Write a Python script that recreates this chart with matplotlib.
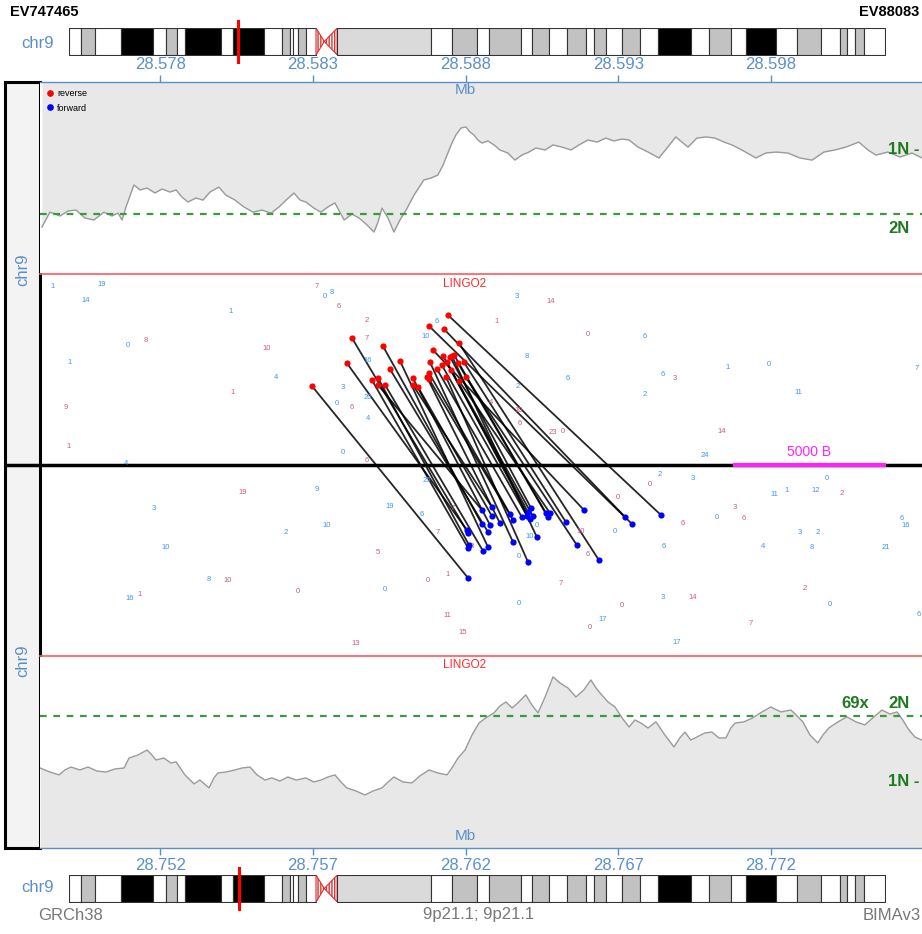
import matplotlib
matplotlib.use("Agg")
import matplotlib.pyplot as plt
from matplotlib.patches import Polygon
from matplotlib.lines import Line2D

plt.rcParams['font.family'] = ['Liberation Sans', 'DejaVu Sans']

# ---- data ----
CHR9_LEN = 138.4
TOP_START_MB = 28.574
BOT_START_MB = 28.748

# ideogram bands of chr9 (Mb)
band_start = [0, 2.0, 4.4, 8.8, 14.2, 16.5, 18.3, 19.7, 25.8, 27.8, 33.1, 36.1, 37.5, 38.0,
              38.8, 40.2, 41.9, 45.5, 61.4, 65.0, 69.2, 71.2, 76.7, 78.5, 81.4, 84.5, 87.7,
              89.0, 91.1, 93.8, 96.8, 99.9, 105.5, 108.5, 112.3, 114.8, 119.9, 123.5, 127.5,
              130.8, 132.0, 133.3, 134.8]
band_stain = ['gneg', 'gpos50', 'gneg', 'gpos100', 'gneg', 'gpos50', 'gneg', 'gpos100', 'gneg',
              'gpos100', 'gneg', 'gpos50', 'gneg', 'gneg', 'gpos50', 'gneg', 'acen', 'gvar',
              'gneg', 'gpos50', 'gneg', 'gpos50', 'gneg', 'gpos50', 'gneg', 'gpos50', 'gneg',
              'gpos50', 'gneg', 'gpos50', 'gneg', 'gpos100', 'gneg', 'gpos50', 'gneg', 'gpos100',
              'gneg', 'gpos50', 'gneg', 'gpos50', 'gneg', 'gpos50', 'gneg']

# coverage, positions in kb from region start, depth in x
top_cov_kb = [0.13, 0.39, 0.72, 0.98, 1.24, 1.54, 1.83, 2.16, 2.42, 2.62, 2.75, 2.88, 3.14, 3.34,
              3.57, 3.83, 4.06, 4.32, 4.52, 4.71, 4.91, 5.17, 5.40, 5.63, 5.92, 6.15, 6.45, 6.74,
              7.04, 7.33, 7.63, 7.89, 8.12, 8.38, 8.58, 8.77, 9.03, 9.26, 9.49, 9.72, 10.02, 10.28,
              10.51, 10.74, 11.00, 11.13, 11.26, 11.46, 11.65, 11.85, 12.05, 12.31, 12.63, 12.86,
              13.09, 13.26, 13.39, 13.55, 13.68, 13.85, 14.01, 14.14, 14.27, 14.40, 14.53, 14.73,
              14.93, 15.12, 15.38, 15.61, 15.84, 16.07, 16.30, 16.60, 16.86, 17.15, 17.45, 17.71,
              18.00, 18.30, 18.59, 18.85, 19.12, 19.35, 19.64, 19.97, 20.33, 20.59, 20.88, 21.08,
              21.28, 21.57, 21.87, 22.16, 22.46, 22.72, 23.04, 23.50, 23.83, 24.16, 24.55, 24.94,
              25.34, 25.73, 26.09, 26.45, 26.87, 27.17, 27.43, 27.82, 28.22, 28.61, 28.94]
top_cov = [75.8, 68.0, 70.0, 67.4, 66.9, 71.1, 72.1, 68.0, 70.0, 68.5, 72.1, 65.3, 53.8, 56.4,
           55.4, 58.0, 55.9, 57.5, 56.4, 60.1, 62.7, 60.6, 61.7, 57.5, 54.9, 59.1, 61.7, 65.3,
           68.0, 66.9, 68.5, 65.3, 61.7, 58.0, 61.7, 62.7, 65.9, 68.0, 65.3, 63.2, 72.1, 69.0,
           71.1, 74.2, 78.4, 73.2, 65.9, 71.1, 78.4, 72.1, 66.9, 59.1, 51.2, 50.2, 48.6, 43.4,
           38.2, 31.9, 27.7, 24.0, 23.5, 26.1, 27.7, 30.3, 31.9, 30.8, 32.9, 35.5, 37.1, 40.8,
           38.2, 36.6, 34.5, 35.5, 32.9, 34.0, 35.5, 32.9, 30.3, 31.4, 29.3, 30.8, 29.8, 30.3,
           34.0, 36.6, 39.7, 34.5, 28.7, 31.4, 34.0, 29.3, 28.7, 29.3, 31.4, 32.9, 35.5, 39.7,
           37.1, 36.6, 37.1, 39.7, 40.8, 36.6, 35.5, 34.0, 31.4, 35.5, 38.2, 36.6, 39.2, 37.1, 39.7]

bot_cov_kb = [0.07, 0.39, 0.69, 0.88, 1.08, 1.37, 1.64, 1.93, 2.23, 2.52, 2.82, 2.98, 3.27, 3.57,
              3.73, 3.86, 4.12, 4.35, 4.52, 4.81, 5.11, 5.30, 5.60, 5.76, 5.89, 6.15, 6.45, 6.68,
              6.94, 7.17, 7.43, 7.66, 7.92, 8.18, 8.45, 8.77, 9.03, 9.26, 9.49, 9.72, 9.92, 10.11,
              10.41, 10.70, 10.97, 11.26, 11.46, 11.65, 11.95, 12.24, 12.50, 12.80, 13.09, 13.39,
              13.55, 13.75, 13.98, 14.21, 14.44, 14.66, 14.93, 15.12, 15.32, 15.52, 15.71, 15.97,
              16.17, 16.37, 16.60, 16.86, 17.09, 17.35, 17.61, 17.87, 18.10, 18.27, 18.40, 18.66,
              18.89, 19.12, 19.35, 19.54, 19.74, 19.97, 20.23, 20.52, 20.82, 21.01, 21.18, 21.37,
              21.57, 21.83, 22.06, 22.29, 22.52, 22.68, 22.82, 23.11, 23.40, 23.70, 23.99, 24.32,
              24.65, 24.85, 25.04, 25.27, 25.53, 25.70, 25.89, 26.19, 26.48, 26.78, 27.07, 27.33,
              27.63, 27.89, 28.12, 28.31, 28.51, 28.71, 28.94]
bot_cov = [41.8, 39.7, 38.2, 40.8, 42.3, 40.8, 42.3, 40.2, 39.7, 41.3, 41.8, 47.0, 48.6, 51.2,
           48.6, 46.0, 47.0, 44.4, 45.0, 38.2, 33.5, 35.5, 31.4, 36.6, 39.2, 39.7, 40.8, 41.8,
           42.3, 38.2, 35.5, 36.6, 35.0, 37.1, 35.5, 36.6, 34.5, 35.5, 37.1, 38.2, 34.5, 31.4,
           29.8, 27.7, 29.8, 31.4, 34.5, 37.1, 34.5, 34.0, 37.6, 40.8, 39.2, 38.2, 41.8, 47.0,
           51.2, 59.1, 65.3, 68.0, 70.6, 74.2, 76.3, 73.2, 75.8, 80.0, 74.7, 70.6, 78.9, 89.4,
           86.2, 83.6, 78.9, 82.6, 87.8, 83.6, 81.0, 76.3, 73.7, 68.0, 63.2, 66.9, 65.3, 62.7,
           65.9, 59.1, 52.8, 57.5, 60.6, 56.4, 58.0, 60.1, 60.6, 57.5, 57.5, 62.7, 65.3, 65.9,
           68.0, 71.1, 73.7, 71.1, 72.1, 69.0, 65.9, 59.1, 54.9, 59.1, 62.7, 65.9, 68.5, 65.9,
           64.3, 68.0, 72.1, 70.0, 71.1, 66.9, 61.7, 58.0, 56.4]

# read pairs: reverse end (top region) and forward end (bottom region), kb and row lane
rev_kb = [13.42, 13.29, 12.80, 13.78, 12.93, 14.01, 13.94, 8.97, 10.11, 10.28, 10.93, 11.13,
          11.13, 11.29, 11.36, 11.52, 11.85, 12.27, 12.27, 12.44, 12.73, 12.80, 12.80, 12.83,
          13.06, 13.22, 13.26, 13.36, 13.39, 13.49, 13.52, 13.55, 13.62, 13.75, 13.78]
rev_lane = [78.1, 70.8, 72.4, 63.5, 59.9, 45.8, 53.6, 41.1, 53.1, 66.1, 44.3, 45.3, 41.7, 62.0,
            41.7, 50.0, 54.2, 45.3, 41.7, 40.6, 45.8, 47.9, 44.8, 53.6, 50.0, 52.1, 56.8, 45.8,
            53.6, 56.3, 49.5, 56.8, 57.3, 53.1, 43.8]
fwd_kb = [20.39, 19.44, 19.21, 18.36, 17.87, 17.64, 17.28, 14.08, 14.04, 14.08, 14.08, 14.11,
          14.53, 14.53, 14.57, 14.73, 14.73, 14.80, 14.86, 14.86, 15.12, 15.45, 15.55, 15.55,
          15.84, 16.01, 16.04, 16.04, 16.10, 16.14, 16.20, 16.33, 16.63, 16.69, 16.76]
fwd_lane = [-26.0, -30.7, -27.1, -49.5, -23.4, -41.7, -29.7, -58.9, -33.9, -35.4, -43.2, -41.7,
            -23.4, -30.7, -44.8, -34.9, -42.7, -31.3, -21.9, -26.6, -30.2, -25.5, -28.6, -40.1,
            -27.1, -26.6, -24.5, -50.5, -28.1, -22.4, -26.6, -37.5, -25.0, -27.1, -25.0]

# single reads labelled with their count (b = forward, p = reverse)
lab_kb = [0.49, 2.09, 1.57, 6.32, 9.13, 9.39, 9.62, 9.85, 10.77, 10.77, 13.06, 12.70, 2.95, 3.54,
          7.50, 1.05, 10.80, 7.79, 6.38, 9.98, 9.79, 10.28, 10.80, 10.80, 0.92, 1.01, 9.98, 2.88,
          10.77, 15.68, 16.79, 15.02, 18.00, 19.87, 16.01, 17.35, 20.46, 20.85, 22.59, 23.93,
          28.77, 19.87, 24.91, 15.71, 14.83, 15.74, 15.78, 16.86, 17.18, 22.39, 21.83,
          6.71, 9.13, 12.73, 3.80, 11.52, 12.57, 13.58, 8.12, 9.46, 13.09, 4.19, 11.13, 5.60,
          6.22, 8.51, 11.36, 12.77, 13.42, 3.01, 3.31, 13.39, 10.41, 20.36, 21.44, 20.03, 18.99,
          25.83, 24.12, 24.52, 25.47, 26.32, 22.82, 22.23, 23.11, 21.11, 18.89, 17.77, 24.94,
          25.53, 28.28, 28.41, 20.49, 23.73, 25.34, 27.76, 16.33, 16.10, 15.74, 18.00, 14.21,
          17.12, 25.11, 20.46, 21.44, 15.74, 25.92, 19.12, 18.49, 18.07, 23.34, 28.84, 20.92, 13.91]
lab_lane = [93.2, 93.8, 85.9, 79.7, 93.2, 87.5, 90.1, 82.8, 75.0, 66.1, 74.5, 66.7, 62.0, 64.6,
            60.9, 53.6, 54.2, 45.8, 37.5, 40.6, 31.8, 30.2, 35.4, 24.0, 29.7, 9.4, 6.3, 1.0,
            2.1, 87.5, 84.9, 74.5, 68.2, 66.7, 56.3, 44.8, 46.9, 44.8, 51.0, 52.6, 50.5, 36.5,
            38.0, 41.1, 32.3, 28.6, 21.4, 16.7, 17.2, 17.7, 5.2,
            -14.1, -13.0, -8.3, -22.4, -21.4, -26.0, -22.4, -34.9, -31.3, -35.4, -43.2, -45.8,
            -59.4, -60.4, -66.1, -64.6, -60.4, -56.8, -69.3, -67.2, -78.6, -93.2, -5.2, -6.8,
            -10.4, -16.7, -6.8, -15.6, -13.5, -13.5, -14.6, -21.9, -27.6, -28.1, -30.7, -34.4,
            -34.4, -34.9, -34.9, -28.1, -31.3, -42.7, -42.2, -43.2, -43.2, -31.3, -37.5, -47.9,
            -46.4, -42.2, -61.5, -64.1, -68.8, -68.8, -71.9, -72.4, -73.4, -80.7, -84.4, -82.3,
            -78.1, -92.2, -87.0]
lab_text = ['1', '19', '14', '1', '7', '0', '8', '6', '2', '7', '6', '10', '0', '8', '10', '1',
            '16', '4', '1', '3', '0', '6', '20', '4', '9', '1', '0', '4', '6', '3', '14', '1', '0',
            '6', '8', '6', '6', '3', '1', '0', '7', '2', '11', '2', '4', '10', '6', '23', '0',
            '14', '24',
            '19', '9', '25', '3', '19', '6', '7', '2', '10', '7', '10', '5', '8', '10', '0', '0',
            '0', '1', '16', '1', '11', '13', '2', '3', '0', '0', '0', '11', '1', '12', '2', '3',
            '0', '6', '6', '0', '10', '3', '2', '6', '16', '6', '4', '8', '21', '0', '10', '0',
            '6', '8', '7', '2', '3', '14', '0', '0', '0', '17', '0', '7', '6', '17', '15']
lab_strand = ['b', 'b', 'b', 'b', 'p', 'b', 'b', 'p', 'p', 'p', 'b', 'b', 'b', 'p', 'p', 'b',
              'b', 'b', 'p', 'b', 'b', 'p', 'b', 'b', 'p', 'p', 'b', 'b', 'p', 'b', 'p', 'p', 'p',
              'b', 'b', 'b', 'b', 'p', 'b', 'b', 'b', 'b', 'b', 'b', 'p', 'p', 'p', 'p', 'p',
              'p', 'b',
              'p', 'b', 'b', 'b', 'b', 'b', 'p', 'b', 'b', 'p', 'b', 'p', 'b', 'p', 'p', 'b',
              'p', 'p', 'b', 'p', 'p', 'p', 'b', 'b', 'p', 'p', 'b', 'b', 'b', 'b', 'p', 'p',
              'b', 'p', 'p', 'b', 'p', 'b', 'b', 'b', 'b', 'b', 'b', 'b', 'b', 'b', 'b', 'b',
              'p', 'p', 'p', 'p', 'b', 'p', 'b', 'b', 'p', 'b', 'p', 'p', 'b', 'b', 'p']

tick_kb = [4, 9, 14, 19, 24]
scalebar_kb = [22.75, 27.75]
ploidy_depth = 69

# ---- layout helpers (pixel boxes) ----
W, H = 922, 934
fig = plt.figure(figsize=(W / 100, H / 100), dpi=100)


def px_axes(x0, y0, x1, y1):
    return fig.add_axes([x0 / W, 1 - y1 / H, (x1 - x0) / W, (y1 - y0) / H])


def ftext(x, y, s, **kw):
    fig.text(x / W, 1 - y / H, s, **kw)


AXBLUE = '#5b8fc9'
stain_col = {'gneg': 'white', 'gpos50': '#c2c2c2', 'gpos100': 'black', 'gvar': '#dadada'}
xlim = (0.065, 28.94)
cov_ylim = 99.8


def ideogram(ax, marker_mb):
    ends = band_start[1:] + [CHR9_LEN]
    for s, e, st in zip(band_start, ends, band_stain):
        if st == 'acen':
            mid = (s + e) / 2 - 0.4
            for pts in ([(s, 1), (mid, 0.5), (s, 0)], [(mid, 0.5), (e, 1), (e, 0)]):
                ax.add_patch(Polygon(pts, closed=True, facecolor='white', edgecolor='#e03030',
                                     hatch='||||||', lw=0.8))
        else:
            ax.broken_barh([(s, e - s)], (0, 1), facecolors=stain_col[st],
                           edgecolor='#333333', lw=0.8)
    ax.plot([marker_mb, marker_mb], [-0.25, 1.25], color='red', lw=2.2, clip_on=False)
    ax.set_xlim(0, CHR9_LEN)
    ax.set_ylim(0, 1)
    ax.axis('off')


ax_i1 = px_axes(69, 28, 885, 55)
ideogram(ax_i1, TOP_START_MB + 6.0 / 1000)
ax_i2 = px_axes(69, 875, 885, 902)
ideogram(ax_i2, BOT_START_MB + 6.0 / 1000)

ftext(38, 43, 'chr9', color=AXBLUE, fontsize=12, ha='center', va='center')
ftext(38, 888, 'chr9', color=AXBLUE, fontsize=12, ha='center', va='center')
ftext(10, 12, 'EV747465', fontsize=10.5, fontweight='bold', ha='left', va='center')
ftext(919, 12, 'EV88083', fontsize=10.5, fontweight='bold', ha='right', va='center')
ftext(38, 915, 'GRCh38', color='#777777', fontsize=12, ha='left', va='center')
ftext(479, 915, '9p21.1; 9p21.1', color='#777777', fontsize=12, ha='center', va='center')
ftext(921, 915, 'BIMAv3', color='#777777', fontsize=12, ha='right', va='center')

# left strip
ax_s = px_axes(5, 82, 40, 848)
ax_s.set_facecolor('#f3f3f3')
ax_s.set_xlim(0, 1)
ax_s.set_ylim(0, 1)
ax_s.set_xticks([])
ax_s.set_yticks([])
for sp in ax_s.spines.values():
    sp.set_linewidth(2.2)
ax_s.axhline(0.5, color='black', lw=2.5)
ax_s.text(0.5, 0.755, 'chr9', rotation=90, color=AXBLUE, fontsize=12, ha='center', va='center')
ax_s.text(0.5, 0.245, 'chr9', rotation=90, color=AXBLUE, fontsize=12, ha='center', va='center')


def style_cov(ax, side, start_mb):
    for k, sp in ax.spines.items():
        sp.set_visible(k == side)
    ax.spines[side].set_color(AXBLUE)
    ax.spines[side].set_linewidth(1.0)
    ax.set_xlim(*xlim)
    ax.set_yticks([])
    ax.set_xticks(tick_kb)
    ax.set_xticklabels(['%.3f' % (start_mb + k / 1000) for k in tick_kb])
    if side == 'top':
        ax.xaxis.tick_top()
    ax.tick_params(axis='x', direction='out', length=5, width=1, color=AXBLUE,
                   labelcolor=AXBLUE, labelsize=12, pad=2)


# top coverage
ax_c1 = px_axes(40, 82, 922, 273)
ax_c1.fill_between(top_cov_kb, 0, top_cov, color='#e8e8e8', lw=0)
ax_c1.plot(top_cov_kb, top_cov, color='#9a9a9a', lw=1)
ax_c1.axhline(ploidy_depth, color='#3c9a3c', lw=1.6, ls=(0, (3, 3)))
ax_c1.set_ylim(cov_ylim, 0)
style_cov(ax_c1, 'top', TOP_START_MB)
ax_c1.legend(handles=[Line2D([], [], ls='', marker='o', ms=3.8, color='red', label='reverse'),
                      Line2D([], [], ls='', marker='o', ms=3.8, color='blue', label='forward')],
             loc='upper left', frameon=False, fontsize=6.5, handlelength=0.6, handletextpad=0.5,
             labelspacing=0.6, borderaxespad=0.5, borderpad=0.3)

# bottom coverage
ax_c2 = px_axes(40, 657, 922, 848)
ax_c2.fill_between(bot_cov_kb, 0, bot_cov, color='#e8e8e8', lw=0)
ax_c2.plot(bot_cov_kb, bot_cov, color='#9a9a9a', lw=1)
ax_c2.axhline(ploidy_depth, color='#3c9a3c', lw=1.6, ls=(0, (3, 3)))
ax_c2.set_ylim(0, cov_ylim)
style_cov(ax_c2, 'bottom', BOT_START_MB)

ftext(465, 90, 'Mb', color=AXBLUE, fontsize=11, ha='center', va='center')
ftext(465, 836, 'Mb', color=AXBLUE, fontsize=11, ha='center', va='center')

GREEN = '#1f7a1f'
ftext(888, 149, '1N -', color=GREEN, fontsize=12, fontweight='bold', ha='left', va='center')
ftext(888, 228, '2N', color=GREEN, fontsize=12, fontweight='bold', ha='left', va='center')
ftext(888, 704, '2N', color=GREEN, fontsize=12, fontweight='bold', ha='left', va='center')
ftext(841, 704, '69x', color=GREEN, fontsize=12, fontweight='bold', ha='left', va='center')
ftext(888, 782, '1N -', color=GREEN, fontsize=12, fontweight='bold', ha='left', va='center')

# middle read panel
ax_m = px_axes(40, 273, 922, 657)
ax_m.set_xlim(*xlim)
ax_m.set_ylim(-100, 100)
ax_m.axis('off')
ax_m.axhline(99.6, color='#ff5a5a', lw=1.2, clip_on=False)
ax_m.axhline(-99.6, color='#ff5a5a', lw=1.2, clip_on=False)
ax_m.text(13.98, 94.3, 'LINGO2', color='#ff2a2a', fontsize=8.5, ha='center', va='center')
ax_m.text(13.98, -104.4, 'LINGO2', color='#ff2a2a', fontsize=8.5, ha='center', va='center',
          clip_on=False)
ax_m.axhline(0, color='black', lw=2.5)
ax_m.plot(scalebar_kb, [0, 0], color='#ff22ff', lw=3, solid_capstyle='butt')
ax_m.text(sum(scalebar_kb) / 2, 6.8, '5000 B', color='#ff22ff', fontsize=10, ha='center',
          va='center')

lab_col = {'b': '#3d94f5', 'p': '#c85a85'}
for k, l, t, s in zip(lab_kb, lab_lane, lab_text, lab_strand):
    ax_m.text(k, l, t, color=lab_col[s], fontsize=5.5, ha='center', va='center')

for rk, rl, fk, fl in zip(rev_kb, rev_lane, fwd_kb, fwd_lane):
    ax_m.plot([rk, fk], [rl, fl], color='black', lw=1.3, alpha=0.85, zorder=2)
ax_m.scatter(rev_kb, rev_lane, s=20, color='red', zorder=3, lw=0)
ax_m.scatter(fwd_kb, fwd_lane, s=20, color='blue', zorder=3, lw=0)

fig.savefig('out.png', dpi=100)
